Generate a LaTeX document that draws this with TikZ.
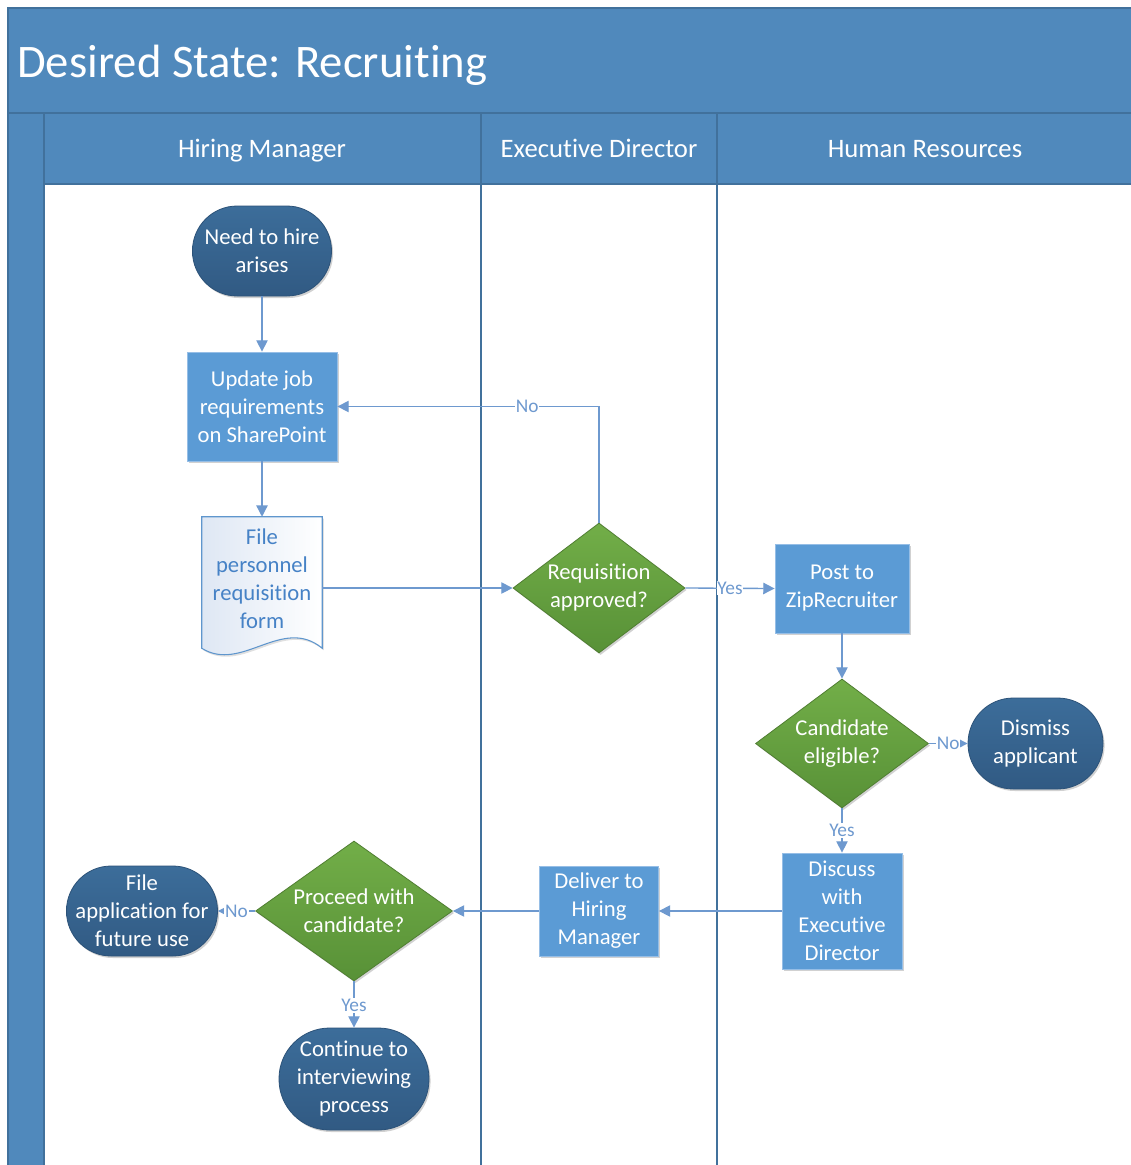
\documentclass[tikz,border=0pt]{standalone}
\usepackage{fontspec}
\setmainfont{Carlito}[Ligatures=NoCommon]
\usetikzlibrary{arrows.meta,shapes.geometric,shadows,calc}

\definecolor{poolblue}{RGB}{80,137,188}
\definecolor{poolline}{RGB}{65,113,156}
\definecolor{procfill}{RGB}{91,155,213}
\definecolor{procline}{RGB}{150,190,230}
\definecolor{termtop}{RGB}{60,109,154}
\definecolor{termbot}{RGB}{49,90,131}
\definecolor{termline}{RGB}{44,82,120}
\definecolor{dectop}{RGB}{114,174,72}
\definecolor{decbot}{RGB}{88,145,55}
\definecolor{decline}{RGB}{80,126,50}
\definecolor{flow}{RGB}{110,153,207}
\definecolor{doctext}{RGB}{70,130,198}
\definecolor{docfill}{RGB}{222,231,244}
\definecolor{docline}{RGB}{95,150,205}

\begin{document}
\begin{tikzpicture}[x=0.75pt,y=-0.75pt,
  softshadow/.style={drop shadow={opacity=0.18,shadow xshift=1.2pt,shadow yshift=-1.5pt,fill=black}},
  txt/.style={font=\fontsize{17}{21}\selectfont, align=center, text=white, inner sep=0pt},
  proc/.style={txt, rectangle, fill=procfill, draw=procline, line width=0.6pt, softshadow},
  term/.style={txt, rectangle, top color=termtop, bottom color=termbot, draw=termline, line width=0.6pt, softshadow},
  dec/.style={txt, diamond, top color=dectop, bottom color=decbot, draw=decline, line width=0.6pt, softshadow},
  flowline/.style={draw=flow, line width=1pt, -{Triangle[length=8.5pt,width=8.5pt]}},
  lbl/.style={font=\fontsize{14.5}{17}\selectfont, text=flow, fill=white, inner sep=0.6pt},
  lanehead/.style={font=\fontsize{20}{24}\selectfont, text=white, inner sep=0pt, anchor=base},
]
\useasboundingbox (0,0) rectangle (1131,1165);

% pool with title bar, side strip and lane headers
\fill[poolblue] (8,8) rectangle (1131,1165);
\fill[white] (44,184) rectangle (1131,1165);
\draw[poolline, line width=1pt] (1131,8) -- (8,8) -- (8,1165);
\draw[poolline, line width=1pt] (8,113) -- (1131,113);
\draw[poolline, line width=1pt] (44,113) -- (44,1165);
\draw[poolline, line width=0.8pt] (44,184) -- (1131,184);
\draw[poolline, line width=1.5pt] (481,113) -- (481,1165);
\draw[poolline, line width=1.5pt] (717,113) -- (717,1165);

\node[anchor=base west, font=\fontsize{35}{42}\selectfont, text=white, inner sep=0pt]
  (title) at (17,77.5) {Desired State: Recruiting};
\node[lanehead] (hmhead) at (262,157) {Hiring Manager};
\node[lanehead] (edhead) at (599,157) {Executive Director};
\node[lanehead] (hrhead) at (925,157) {Human Resources};

% Hiring Manager lane
\node[term, minimum width=104.25pt, minimum height=67.5pt, rounded corners=33.5pt]
  (need) at (262,251) {Need to hire\\arises};
\node[proc, minimum width=112.5pt, minimum height=81.75pt]
  (update) at (262,406.5) {Update job\\requirements\\on SharePoint};
\node[rectangle, inner sep=0pt, minimum width=90pt, minimum height=98.25pt]
  (form) at (262,582.5) {};
\fill[black, opacity=0.12] ([xshift=1.2pt,yshift=-1.5pt]form.north west) -- ([xshift=1.2pt,yshift=-1.5pt]form.north east)
  -- ([xshift=1.2pt,yshift=-1.5pt]form.south east)
  .. controls ($([xshift=1.2pt,yshift=-1.5pt]form.south east)+(-40,-33)$) and ($([xshift=1.2pt,yshift=-1.5pt]form.south west)+(40,25)$) ..
  ([xshift=1.2pt,yshift=-1.5pt]form.south west) -- cycle;
\draw[docline, line width=0.8pt, left color=docfill, right color=white]
  (form.north west) -- (form.north east) -- (form.south east)
  .. controls ($(form.south east)+(-40,-33)$) and ($(form.south west)+(40,25)$) ..
  (form.south west) -- cycle;
\node[txt, text=doctext] (formtext) at ($(form.center)+(0,-3.5)$) {File\\personnel\\requisition\\form};

\node[dec, aspect=1.41, minimum width=147.75pt, minimum height=105pt]
  (proceed) at (354,911) {Proceed with\\candidate?};
\node[term, minimum width=113.25pt, minimum height=67.5pt, rounded corners=33.5pt]
  (fileapp) at (142,911) {File\\application for\\future use};
\node[term, minimum width=112.5pt, minimum height=76.5pt, rounded corners=38pt]
  (continue) at (354,1079) {Continue to\\interviewing\\process};

% Executive Director lane
\node[dec, aspect=1.32, minimum width=129pt, minimum height=97.5pt]
  (approved) at (599,588) {Requisition\\approved?};
\node[proc, minimum width=89.25pt, minimum height=67.5pt]
  (deliver) at (599,911) {Deliver to\\Hiring\\Manager};

% Human Resources lane
\node[proc, minimum width=100.5pt, minimum height=66.75pt]
  (post) at (842,588.5) {Post to\\ZipRecruiter};
\node[dec, aspect=1.34, minimum width=129.75pt, minimum height=96.75pt]
  (eligible) at (842,743.5) {Candidate\\eligible?};
\node[term, minimum width=101.25pt, minimum height=68.25pt, rounded corners=34pt]
  (dismiss) at (1035.5,743.5) {Dismiss\\applicant};
\node[proc, minimum width=90pt, minimum height=87pt]
  (discuss) at (842,911) {Discuss\\with\\Executive\\Director};

% connectors
\draw[flowline] (need) -- (update);
\draw[flowline] (update) -- (form);
\draw[flowline] (form.east |- approved.west) -- (approved.west);
\draw[flowline] (approved.north) |- node[lbl, pos=0.637] {No} (update.east);
\draw[flowline] (approved.east) -- node[lbl, pos=0.5] {Yes} (post.west);
\draw[flowline] (post) -- (eligible);
\draw[flowline] (eligible.east) -- node[lbl, pos=0.5] {No} (dismiss.west);
\draw[flowline] (eligible.south) -- node[lbl, pos=0.5] {Yes} (discuss.north);
\draw[flowline] (discuss.west) -- (deliver.east);
\draw[flowline] (deliver.west) -- (proceed.east);
\draw[flowline] (proceed.west) -- node[lbl, pos=0.5] {No} (fileapp.east);
\draw[flowline] (proceed.south) -- node[lbl, pos=0.52] {Yes} (continue.north);
\end{tikzpicture}
\end{document}
